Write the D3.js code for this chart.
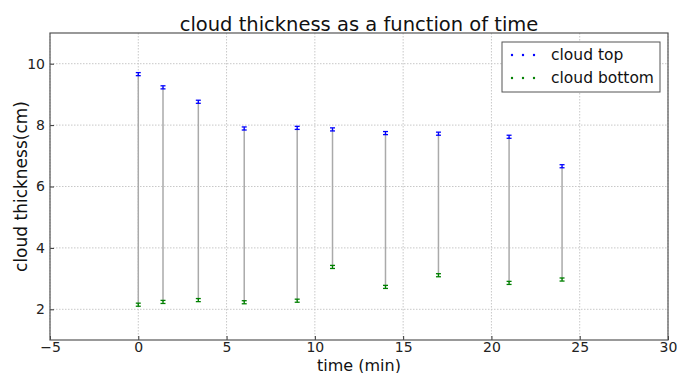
<!DOCTYPE html>
<html>
<head>
<meta charset="utf-8">
<script src="https://cdn.jsdelivr.net/npm/d3@7"></script>
<style>
  body { margin: 0; background: #fff; }
  svg { font-family: "DejaVu Sans", sans-serif; }
</style>
</head>
<body>
<div id="chart"></div>
<script>
// readings
const times = [0, 1.4, 3.4, 6, 9, 11, 14, 17, 21, 24];
const cloudTop = [9.66, 9.23, 8.76, 7.89, 7.91, 7.86, 7.74, 7.72, 7.62, 6.66];
const cloudBottom = [2.15, 2.24, 2.30, 2.23, 2.28, 3.38, 2.73, 3.11, 2.86, 2.97];
const errSize = 0.05;
const xTicks = [-5, 0, 5, 10, 15, 20, 25, 30];
const yTicks = [2, 4, 6, 8, 10];
const seriesNames = ["cloud top", "cloud bottom"];
const seriesColors = ["#0000ff", "#008000"];

let margin = {top: 33, right: 9, bottom: 33, left: 50},
    width = 677 - margin.left - margin.right,
    height = 373 - margin.top - margin.bottom;

let x = d3.scaleLinear().domain([-5, 30]).range([0, width]);
let y = d3.scaleLinear().domain([1, 11]).range([height, 0]);

let svg = d3.select('#chart').append('svg')
  .attr('width', 677)
  .attr('height', 373);

let g = svg.append('g')
  .attr('transform', 'translate(' + margin.left + ',' + margin.top + ')');

// grid
g.append('g').selectAll('line').data(xTicks).enter().append('line')
  .attr('x1', d => x(d)).attr('x2', d => x(d))
  .attr('y1', 0).attr('y2', height)
  .attr('stroke', '#c8c8c8').attr('stroke-dasharray', '1.5,1.5');
g.append('g').selectAll('line').data(yTicks).enter().append('line')
  .attr('y1', d => y(d)).attr('y2', d => y(d))
  .attr('x1', 0).attr('x2', width)
  .attr('stroke', '#c8c8c8').attr('stroke-dasharray', '1.5,1.5');

// axes
let xAxis = d3.axisBottom(x).tickValues(xTicks).tickSizeInner(-4).tickSizeOuter(0)
  .tickFormat(d => d < 0 ? '\u2212' + Math.abs(d) : d);
let yAxis = d3.axisLeft(y).tickValues(yTicks).tickSizeInner(-4).tickSizeOuter(0);

let gx = g.append('g').attr('transform', 'translate(0,' + height + ')').call(xAxis);
let gy = g.append('g').call(yAxis);
[gx, gy].forEach(a => {
  a.select('.domain').remove();
  a.selectAll('.tick line').attr('stroke', '#333');
  a.selectAll('.tick text').attr('fill', '#222').style('font-size', '14px')
    .style('font-family', '"DejaVu Sans", sans-serif');
});
gx.selectAll('.tick text').attr('dy', '0.71em').attr('y', 2);
gy.selectAll('.tick text').attr('x', -5);

// frame
g.append('rect')
  .attr('width', width).attr('height', height)
  .attr('fill', 'none').attr('stroke', '#555').attr('stroke-width', 1.2);

// connector lines
g.append('g').selectAll('line').data(times).enter().append('line')
  .attr('x1', d => x(d)).attr('x2', d => x(d))
  .attr('y1', (d, i) => y(cloudTop[i]))
  .attr('y2', (d, i) => y(cloudBottom[i]))
  .attr('stroke', '#aaa').attr('stroke-width', 1.5);

// error bar markers
function drawErr(vals, color) {
  let eg = g.append('g').attr('stroke', color).attr('stroke-width', 1.3);
  times.forEach((t, i) => {
    let cx = x(t), y0 = y(vals[i] - errSize), y1 = y(vals[i] + errSize);
    eg.append('line').attr('x1', cx).attr('x2', cx).attr('y1', y0).attr('y2', y1);
    eg.append('line').attr('x1', cx - 2.5).attr('x2', cx + 2.5).attr('y1', y0).attr('y2', y0);
    eg.append('line').attr('x1', cx - 2.5).attr('x2', cx + 2.5).attr('y1', y1).attr('y2', y1);
  });
}
drawErr(cloudTop, seriesColors[0]);
drawErr(cloudBottom, seriesColors[1]);

// legend
let lg = svg.append('g').attr('transform', 'translate(502,42)');
lg.append('rect').attr('width', 158).attr('height', 50)
  .attr('fill', '#fff').attr('stroke', '#555').attr('stroke-width', 1);
seriesNames.forEach((name, i) => {
  let row = lg.append('g').attr('transform', 'translate(0,' + (13 + i * 23) + ')');
  [10, 21, 32].forEach(px => {
    row.append('circle').attr('cx', px).attr('cy', 0).attr('r', 1.2).attr('fill', seriesColors[i]);
  });
  row.append('text').attr('x', 49).attr('y', 0).attr('dy', '0.35em')
    .style('font-size', '15.5px').attr('fill', '#111').text(name);
});

// titles
svg.append('text').attr('x', 359).attr('y', 31).attr('text-anchor', 'middle')
  .style('font-size', '19.5px').attr('fill', '#111').text('cloud thickness as a function of time');
svg.append('text').attr('x', 359).attr('y', 370.5).attr('text-anchor', 'middle')
  .style('font-size', '16px').attr('fill', '#111').text('time (min)');
svg.append('text').attr('transform', 'translate(27,' + (margin.top + height / 2) + ') rotate(-90)')
  .attr('text-anchor', 'middle')
  .style('font-size', '17px').attr('fill', '#111').text('cloud thickness(cm)');
</script>
</body>
</html>
